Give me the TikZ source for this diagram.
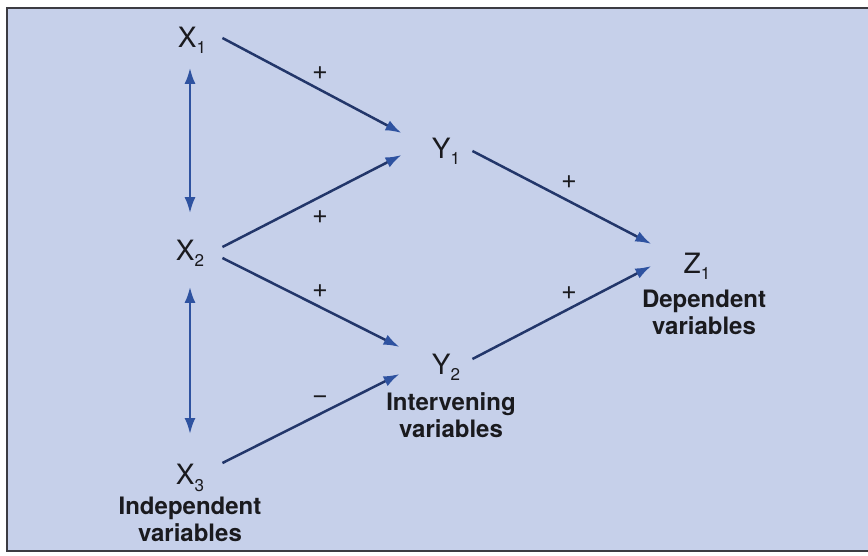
\documentclass[tikz,border=0pt]{standalone}
\usepackage{fontspec}
\setmainfont{TeX Gyre Heros}
\usetikzlibrary{positioning, arrows.meta}
\definecolor{panelbg}{RGB}{198,208,234}
\definecolor{framegray}{RGB}{60,60,66}
\definecolor{linkblue}{RGB}{34,54,106}
\definecolor{tipblue}{RGB}{46,82,160}
\definecolor{inkgray}{RGB}{26,26,30}
\newcommand{\subidx}[1]{\raisebox{-3.2pt}{\fontsize{8.5}{9}\selectfont#1}}

\begin{document}
\begin{tikzpicture}[x=0.5pt, y=-0.5pt,
    var/.style={inner sep=0pt, text=inkgray, font=\fontsize{14}{15}\selectfont},
    group/.style={inner sep=0pt, align=center, text=inkgray, font=\fontsize{12}{13.5}\selectfont\bfseries},
    sign/.style={inner sep=0pt, text=inkgray, font=\fontsize{13.5}{14}\selectfont},
    conn/.style={draw=linkblue, line width=1.25pt, -{Latex[length=8pt, width=5.5pt, color=tipblue]}},
    corr/.style={draw=tipblue, line width=1.25pt, {Latex[length=8pt, width=5.5pt]}-{Latex[length=8pt, width=5.5pt]}}]
\useasboundingbox (0,0) rectangle (868,556);
% ---- panel
\fill[white] (0,0) rectangle (868,556);
\draw[fill=panelbg, draw=framegray, line width=1pt] (7,8) rectangle (872,551);
% ---- variables
\node[var] (x1) at (192,40) {X\subidx{1}};
\node[var] (x2) at (190,253) {X\subidx{2}};
\node[var] (x3) at (190,478) {X\subidx{3}};
\node[var] (y1) at (446,151) {Y\subidx{1}};
\node[var] (y2) at (446,367) {Y\subidx{2}};
\node[var] (z1) at (697,266) {Z\subidx{1}};
% ---- group captions
\node[group] (indep) at (190,519) {Independent\\variables};
\node[group] (interv) at (451,415) {Intervening\\variables};
\node[group] (dep) at (704,312) {Dependent\\variables};
% ---- links
\draw[corr] ([shift={(-1pt,-7pt)}]x1.south) -- ([shift={(0pt,13pt)}]x2.north);
\draw[corr] ([shift={(0pt,-10pt)}]x2.south) -- ([shift={(0pt,15pt)}]x3.north);
\draw[conn] ([shift={(8pt,1pt)}]x1.east) -- ([shift={(-15pt,9pt)}]y1.west);
\draw[conn] ([shift={(9pt,3pt)}]x2.east) -- ([shift={(-15pt,-2pt)}]y1.west);
\draw[conn] ([shift={(9pt,-2.5pt)}]x2.east) -- ([shift={(-16pt,10pt)}]y2.west);
\draw[conn] ([shift={(9pt,7.5pt)}]x3.east) -- ([shift={(-16pt,-3.5pt)}]y2.west);
\draw[conn] ([shift={(6pt,0pt)}]y1.east) -- ([shift={(-16pt,11pt)}]z1.west);
\draw[conn] ([shift={(6pt,4pt)}]y2.east) -- ([shift={(-16pt,0pt)}]z1.west);
% ---- signs
\node[sign] (s1) at (320,73) {+};
\node[sign] (s2) at (320,217) {+};
\node[sign] (s3) at (320,291) {+};
\node[sign] (s4) at (320,400) {\textminus};
\node[sign] (s5) at (569,182) {+};
\node[sign] (s6) at (569,293) {+};
\end{tikzpicture}
\end{document}
